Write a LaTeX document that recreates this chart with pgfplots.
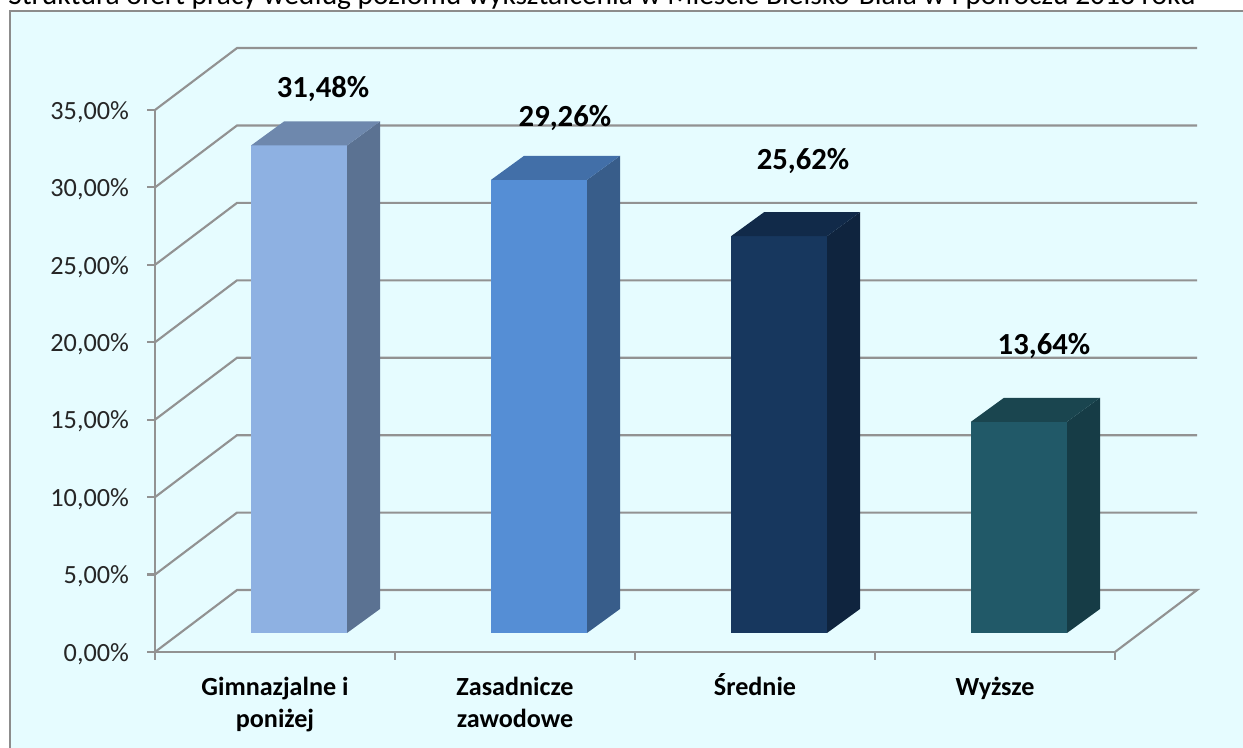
\documentclass[border=0pt]{standalone}
\usepackage{fontspec}
\setmainfont{Carlito}
\usepackage{pgfplots}
\pgfplotsset{compat=1.18}

\definecolor{tlo}{HTML}{E6FCFF}
\definecolor{ramka}{HTML}{8C8C8C}
\definecolor{siatka}{HTML}{929292}
\definecolor{aF}{HTML}{8EB1E2}
\definecolor{aS}{HTML}{5B7292}
\definecolor{aT}{HTML}{6E88AD}
\definecolor{bF}{HTML}{558ED5}
\definecolor{bS}{HTML}{385D8A}
\definecolor{bT}{HTML}{426FA8}
\definecolor{cF}{HTML}{17375E}
\definecolor{cS}{HTML}{0F243E}
\definecolor{cT}{HTML}{112A49}
\definecolor{dF}{HTML}{215968}
\definecolor{dS}{HTML}{163C46}
\definecolor{dT}{HTML}{1A454F}

\tikzset{linia/.style={siatka,line width=1.6pt,mark=none},
  etykieta/.style={font=\fontsize{23}{26}\selectfont\bfseries,text=black}}

\begin{document}
% 1 jednostka = 1 piksel oryginalu
\begin{tikzpicture}[x=0.75pt,y=0.75pt]
\path[use as bounding box] (0,0) rectangle (1243,748);
\clip (0,0) rectangle (1243,748);
\fill[white] (0,0) rectangle (1243,748);
\draw[ramka,fill=tlo,line width=2pt] (10,-20) rectangle (1270,737);
\node[anchor=base west,inner sep=0pt,font=\fontsize{22.1}{26}\selectfont] at (8,743)
  {Struktura ofert pracy według poziomu wykształcenia w Mieście Bielsko-Biała w I półroczu 2013 roku};

% osie i siatka
\begin{axis}[
    at={(116.25pt,72pt)}, anchor=south west,
    scale only axis, width=720pt, height=406.5pt,
    xmin=0, xmax=4, ymin=0, ymax=35,
    clip=false,
    axis x line=bottom, axis y line=left,
    axis line style={siatka,line width=1.6pt,-},
    tick style={siatka,line width=1.6pt},
    tick align=outside, major tick length=6pt,
    xtick={0,1,2,3,4}, xticklabels={},
    extra x ticks={0.5,1.5,2.5,3.5},
    extra x tick labels={\strut Gimnazjalne i\\poniżej,\strut Zasadnicze\\zawodowe,\strut Średnie,\strut Wyższe},
    extra x tick style={major tick length=0pt,
        tick label style={align=center,anchor=north,yshift=-12pt,text=black,
            font=\fontsize{19.6}{24}\selectfont\bfseries}},
    ytick={0,5,...,35},
    yticklabel={\pgfmathprintnumber[fixed,fixed zerofill,precision=2,use comma,assume math mode=true]{\tick}\%},
    y tick label style={font=\fontsize{19.7}{22}\selectfont,text=black!85,xshift=-10pt,yshift=-1.5pt},
]
\addplot[linia] coordinates {(0,0) (0.3417,4) (4.3417,4) (4,0)};
\addplot[linia] coordinates {(0,5) (0.3417,9) (4.3417,9)};
\addplot[linia] coordinates {(0,10) (0.3417,14) (4.3417,14)};
\addplot[linia] coordinates {(0,15) (0.3417,19) (4.3417,19)};
\addplot[linia] coordinates {(0,20) (0.3417,24) (4.3417,24)};
\addplot[linia] coordinates {(0,25) (0.3417,29) (4.3417,29)};
\addplot[linia] coordinates {(0,30) (0.3417,34) (4.3417,34)};
\addplot[linia] coordinates {(0,35) (0.3417,39) (4.3417,39)};
\end{axis}

% slupki: ta sama skala, przesuniete w glab
\begin{axis}[
    at={(134.25pt,86.25pt)}, anchor=south west,
    scale only axis, width=720pt, height=406.5pt,
    xmin=0, xmax=4, ymin=0, ymax=35,
    clip=false, hide axis,
    ybar, bar width=72pt, bar shift=0pt,
]
\addplot[fill=aF,draw=none] coordinates {(0.5,31.48)};
\addplot[fill=bF,draw=none] coordinates {(1.5,29.26)};
\addplot[fill=cF,draw=none] coordinates {(2.5,25.62)};
\addplot[fill=dF,draw=none] coordinates {(3.5,13.64)};
\end{axis}

\begin{axis}[
    at={(134.25pt,86.25pt)}, anchor=south west,
    scale only axis, width=720pt, height=406.5pt,
    xmin=0, xmax=4, ymin=0, ymax=35,
    clip=false, hide axis,
]
% boki
\addplot[fill=aS,draw=none,mark=none] coordinates {(0.7,0) (0.8375,1.55) (0.8375,33.03) (0.7,31.48)} --cycle;
\addplot[fill=bS,draw=none,mark=none] coordinates {(1.7,0) (1.8375,1.55) (1.8375,30.81) (1.7,29.26)} --cycle;
\addplot[fill=cS,draw=none,mark=none] coordinates {(2.7,0) (2.8375,1.55) (2.8375,27.17) (2.7,25.62)} --cycle;
\addplot[fill=dS,draw=none,mark=none] coordinates {(3.7,0) (3.8375,1.55) (3.8375,15.19) (3.7,13.64)} --cycle;
% gory
\addplot[fill=aT,draw=none,mark=none] coordinates {(0.3,31.48) (0.4375,33.03) (0.8375,33.03) (0.7,31.48)} --cycle;
\addplot[fill=bT,draw=none,mark=none] coordinates {(1.3,29.26) (1.4375,30.81) (1.8375,30.81) (1.7,29.26)} --cycle;
\addplot[fill=cT,draw=none,mark=none] coordinates {(2.3,25.62) (2.4375,27.17) (2.8375,27.17) (2.7,25.62)} --cycle;
\addplot[fill=dT,draw=none,mark=none] coordinates {(3.3,13.64) (3.4375,15.19) (3.8375,15.19) (3.7,13.64)} --cycle;
% etykiety
\node[etykieta] at (axis cs:0.6,35.16) {31,48\%};
\node[etykieta] at (axis cs:1.608,33.28) {29,26\%};
\node[etykieta] at (axis cs:2.6,30.49) {25,62\%};
\node[etykieta] at (axis cs:3.604,18.55) {13,64\%};
\end{axis}
\end{tikzpicture}
\end{document}
